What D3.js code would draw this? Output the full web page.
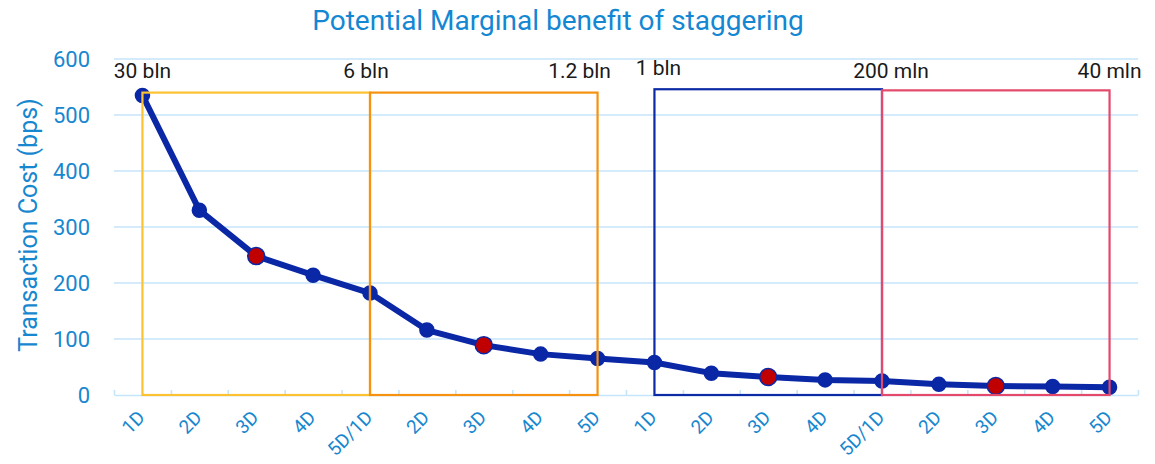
<!DOCTYPE html>
<html>
<head>
<meta charset="utf-8">
<script src="https://cdn.jsdelivr.net/npm/d3@7"></script>
<style>
  body { margin: 0; background: #fff; }
  text { font-family: Roboto, "Noto Sans", sans-serif; }
</style>
</head>
<body>
<script>
// Chart data
const categories = ["1D","2D","3D","4D","5D/1D","2D","3D","4D","5D","1D","2D","3D","4D","5D/1D","2D","3D","4D","5D"];
const costs = [535, 330, 248, 214, 182, 116, 89, 73, 65, 58, 39, 32, 27, 25, 19, 16, 15, 14];
const highlighted = [2, 6, 11, 15];
const yTicks = [0, 100, 200, 300, 400, 500, 600];

// boxes: start index, end index, top value
const boxStart = [0, 4, 9, 13];
const boxEnd = [4, 8, 13, 17];
const boxTop = [540, 540, 546, 544];
const boxColors = ["#fcc232", "#f6920f", "#0c2aa5", "#e4486a"];

const sizeLabels = ["30 bln", "6 bln", "1.2 bln", "1 bln", "200 mln", "40 mln"];
const sizeIdx = [0, 4, 8, 9, 13, 17];

// layout
const W = 1155, H = 464;
const margin = {top: 59, right: 17, bottom: 69, left: 114};
const labelDx = [0, -4, -18, 4, 9, 0];
const labelY = [78, 78, 78, 75, 78, 78];

const svg = d3.select("body").append("svg")
  .attr("width", W)
  .attr("height", H);

const x = d3.scaleBand()
  .domain(d3.range(categories.length))
  .range([margin.left, W - margin.right])
  .padding(0);

const y = d3.scaleLinear()
  .domain([0, 600])
  .range([H - margin.bottom, margin.top]);

const blueText = "#1787cf";

// gridlines
svg.append("g")
  .selectAll("line")
  .data(yTicks.filter(d => d > 0))
  .join("line")
  .attr("x1", margin.left)
  .attr("x2", W - margin.right)
  .attr("y1", d => y(d))
  .attr("y2", d => y(d))
  .attr("stroke", "#c4e5fa")
  .attr("stroke-width", 1.6);

// y axis
const yAxis = svg.append("g")
  .attr("transform", `translate(${margin.left},0)`)
  .call(d3.axisLeft(y).tickValues(yTicks).tickSize(0).tickPadding(24));
yAxis.select(".domain").remove();
yAxis.selectAll(".tick text")
  .attr("font-size", 22)
  .attr("fill", blueText)
  .style("font-family", "Roboto");

// x axis: light line with ticks at band edges
const edge = d3.scaleLinear().domain([0, categories.length]).range(x.range());
const xEdges = svg.append("g")
  .attr("transform", `translate(0,${y(0)})`)
  .call(d3.axisBottom(edge).ticks(categories.length).tickSizeInner(-5).tickSizeOuter(0).tickFormat(""));
xEdges.select(".domain").attr("stroke", "#c4e5fa").attr("stroke-width", 1.6);
xEdges.selectAll(".tick line").attr("stroke", "#c4e5fa").attr("stroke-width", 1.6);

const xAxis = svg.append("g")
  .attr("transform", `translate(0,${y(0)})`)
  .call(d3.axisBottom(x).tickSize(0).tickFormat(i => categories[i]));
xAxis.select(".domain").remove();
xAxis.selectAll(".tick text")
  .attr("font-size", 19)
  .attr("fill", blueText)
  .style("font-family", "Roboto")
  .attr("text-anchor", "end")
  .attr("y", 0)
  .attr("dy", "0.35em")
  .attr("transform", "translate(-1,19) rotate(-45)");

// line
const line = d3.line()
  .x((d, i) => x(i) + x.bandwidth() / 2)
  .y(d => y(d));

svg.append("path")
  .datum(costs)
  .attr("d", line)
  .attr("fill", "none")
  .attr("stroke", "#0a27a6")
  .attr("stroke-width", 6)
  .attr("stroke-linejoin", "round");

svg.append("g")
  .selectAll("circle")
  .data(costs)
  .join("circle")
  .attr("cx", (d, i) => x(i) + x.bandwidth() / 2)
  .attr("cy", d => y(d))
  .attr("r", (d, i) => highlighted.includes(i) ? 8.5 : 7)
  .attr("fill", (d, i) => highlighted.includes(i) ? "#c00000" : "#0a27a6")
  .attr("stroke", "#0a27a6")
  .attr("stroke-width", 1.5);

// boxes on top
const cx = i => x(i) + x.bandwidth() / 2;
svg.append("g")
  .selectAll("rect")
  .data(boxStart)
  .join("rect")
  .attr("x", (d, i) => cx(boxStart[i]))
  .attr("y", (d, i) => y(boxTop[i]))
  .attr("width", (d, i) => cx(boxEnd[i]) - cx(boxStart[i]))
  .attr("height", (d, i) => y(0) - y(boxTop[i]))
  .attr("fill", "none")
  .attr("stroke", (d, i) => boxColors[i])
  .attr("stroke-width", 2.2);

// size annotations
svg.append("g")
  .selectAll("text")
  .data(sizeLabels)
  .join("text")
  .attr("x", (d, i) => cx(sizeIdx[i]) + labelDx[i])
  .attr("y", (d, i) => labelY[i])
  .attr("text-anchor", "middle")
  .attr("font-size", 21)
  .attr("fill", "#1a1a1a")
  .text(d => d);

// titles
svg.append("text")
  .attr("x", 558)
  .attr("y", 30)
  .attr("text-anchor", "middle")
  .attr("font-size", 28)
  .attr("fill", "#1487d3")
  .text("Potential Marginal benefit of staggering");

svg.append("text")
  .attr("transform", `translate(37,${(93 + 357) / 2}) rotate(-90)`)
  .attr("text-anchor", "middle")
  .attr("font-size", 25)
  .attr("fill", blueText)
  .text("Transaction Cost (bps)");
</script>
</body>
</html>
